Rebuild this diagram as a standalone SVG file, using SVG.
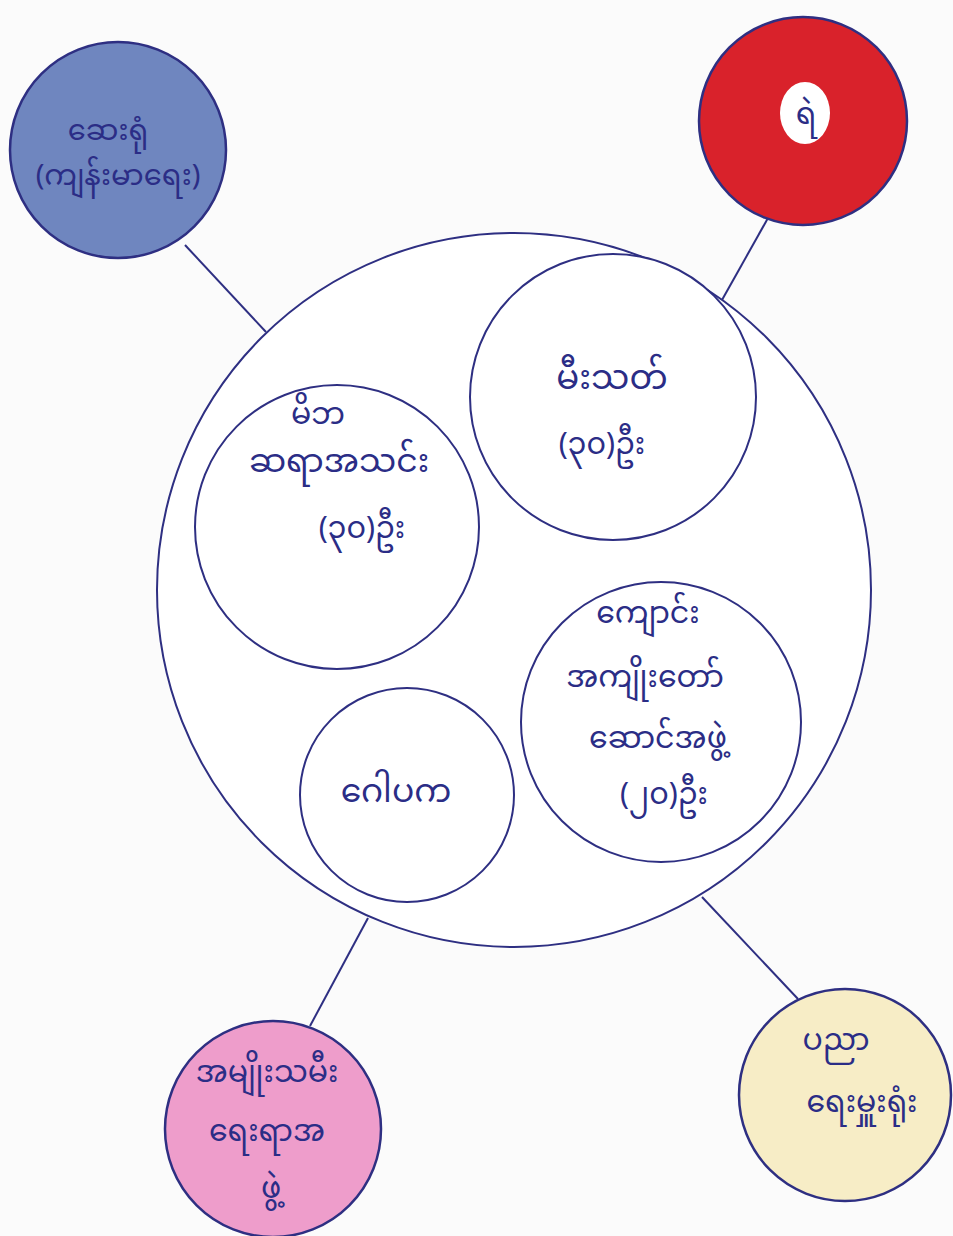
<svg xmlns="http://www.w3.org/2000/svg" width="953" height="1236" viewBox="0 0 953 1236">
<style>
.c{fill:#ffffff;stroke:#2e2f82;stroke-width:2}
.o{stroke:#2e2f82;stroke-width:2.5}
.t{font-family:"Noto Sans Myanmar","Padauk","Myanmar Text","Noto Sans",sans-serif;font-size:30px;fill:#2b2d86;text-anchor:middle}
.ln{stroke:#2e2f82;stroke-width:2;fill:none}
</style>
<rect width="953" height="1236" fill="#fbfbfb"/>
<g id="connectors">
<line class="ln" x1="185" y1="245" x2="266" y2="332"/>
<line class="ln" x1="768" y1="218" x2="722" y2="300"/>
<line class="ln" x1="368" y1="918" x2="310" y2="1026"/>
<line class="ln" x1="702" y1="897" x2="798" y2="999"/>
</g>
<g id="main">
<circle class="c" cx="514" cy="590" r="357"/>
</g>
<g id="fire">
<circle class="c" cx="613" cy="397" r="143"/>
<text class="t" x="612" y="389" style="font-size:34px">မီးသတ်</text>
<text class="t" x="602" y="454">(၃၀)ဦး</text>
</g>
<g id="pta">
<circle class="c" cx="337" cy="527" r="142"/>
<text class="t" x="318" y="424">မိဘ</text>
<text class="t" x="339" y="472" style="font-size:33px">ဆရာအသင်း</text>
<text class="t" x="362" y="538">(၃၀)ဦး</text>
</g>
<g id="trustee">
<circle class="c" cx="661" cy="722" r="140"/>
<text class="t" x="648" y="623">ကျောင်း</text>
<text class="t" x="645" y="687">အကျိုးတော်</text>
<text class="t" x="658" y="748">ဆောင်အဖွဲ့</text>
<text class="t" x="664" y="804">(၂၀)ဦး</text>
</g>
<g id="gawpaka">
<circle class="c" cx="407" cy="795" r="107"/>
<text class="t" x="396" y="802" style="font-size:33px">ဂေါပက</text>
</g>
<g id="hospital">
<circle class="o" cx="118" cy="150" r="108" fill="#6f86bf"/>
<text class="t" x="108" y="140" style="font-size:29px">ဆေးရုံ</text>
<text class="t" x="118" y="185" style="font-size:29px">(ကျန်းမာရေး)</text>
</g>
<g id="police">
<circle class="o" cx="803" cy="121" r="104" fill="#d9222b"/>
<ellipse cx="805" cy="113" rx="25" ry="31" fill="#ffffff"/>
<text class="t" x="806" y="124">ရဲ</text>
</g>
<g id="women">
<circle class="o" cx="273" cy="1129" r="108" fill="#ee9dcb"/>
<text class="t" x="267" y="1082">အမျိုးသမီး</text>
<text class="t" x="267" y="1141">ရေးရာအ</text>
<text class="t" x="271" y="1198">ဖွဲ့</text>
</g>
<g id="education">
<circle class="o" cx="845" cy="1095" r="106" fill="#f7edc6"/>
<text class="t" x="836" y="1050">ပညာ</text>
<text class="t" x="862" y="1112">ရေးမှူးရုံး</text>
</g>
</svg>
